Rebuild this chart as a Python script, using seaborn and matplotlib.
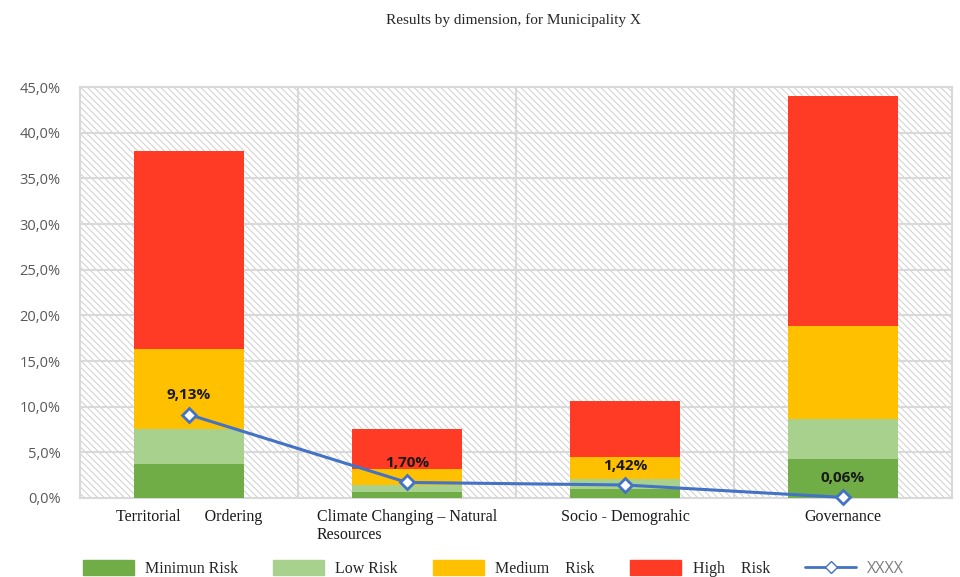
import numpy as np
import pandas as pd
import matplotlib
matplotlib.use("Agg")
import matplotlib.pyplot as plt
from matplotlib.patches import Rectangle
from matplotlib.ticker import FuncFormatter
from matplotlib.lines import Line2D
import seaborn as sns

# Datos
dimensiones = ["Territorial      Ordering", "Climate Changing \u2013 Natural\nResources",
               "Socio - Demograhic", "Governance"]
minimo = [3.7, 0.65, 1.0, 4.25]
bajo = [3.85, 0.75, 1.05, 4.4]
medio = [8.75, 1.8, 2.4, 10.2]
alto = [21.7, 4.3, 6.15, 25.15]
xxxx = [9.13, 1.70, 1.42, 0.06]
etiquetas_xxxx = ["9,13%", "1,70%", "1,42%", "0,06%"]

capas = [("Minimun Risk", minimo, "#70AD47"),
         ("Low Risk", bajo, "#A9D18E"),
         ("Medium    Risk", medio, "#FFC000"),
         ("High    Risk", alto, "#FF3B25")]

SERIF = ["Liberation Serif", "DejaVu Serif"]

sns.set_style("white")
plt.rcParams["hatch.linewidth"] = 0.7
plt.rcParams["font.family"] = ["Open Sans", "DejaVu Sans"]

fig = plt.figure(figsize=(9.6, 5.77), dpi=100)
ax = fig.add_axes([0.0833, 0.137, 0.9084, 0.712])

# fondo rayado
ax.add_patch(Rectangle((0, 0), 1, 1, transform=ax.transAxes, facecolor="white",
                       edgecolor="#cfcfcf", hatch="\\\\\\\\\\", lw=0, zorder=0))

df = pd.DataFrame({"dim": dimensiones})
base = np.zeros(len(dimensiones))
for nombre, vals, color in capas:
    df["v"] = vals
    sns.barplot(data=df, x="dim", y="v", bottom=base, color=color, width=0.505,
                saturation=1, ax=ax, zorder=3, linewidth=0)
    base = base + np.array(vals)

sns.lineplot(x=np.arange(len(dimensiones)), y=xxxx, ax=ax, color="#4472C4", lw=2.2,
             marker="D", markersize=7, markerfacecolor="white", markeredgecolor="#4472C4",
             markeredgewidth=2, zorder=5, clip_on=False)
for i, (v, t) in enumerate(zip(xxxx, etiquetas_xxxx)):
    ax.annotate(t, (i, v), xytext=(0, 14), textcoords="offset points", ha="center",
                va="center", fontsize=11, fontweight="bold", color="#1a1a1a", zorder=6)

ax.set_ylim(0, 45)
ax.set_xlim(-0.5, 3.5)
ax.set_yticks(np.arange(0, 46, 5))
ax.yaxis.set_major_formatter(FuncFormatter(lambda y, p: f"{y:.1f}%".replace(".", ",")))
for y in np.arange(5, 46, 5):
    ax.axhline(y, color="#d9d9d9", lw=1.5, zorder=1)
for x in [0.5, 1.5, 2.5]:
    ax.axvline(x, color="#d9d9d9", lw=1.5, zorder=1)
for s in ax.spines.values():
    s.set_color("#d9d9d9")
    s.set_linewidth(1.5)
ax.tick_params(axis="y", labelsize=10.5, colors="#595959", length=0, pad=14)
ax.tick_params(axis="x", length=0, pad=8)
ax.set_xticks(range(len(dimensiones)))
ax.set_xticklabels(dimensiones, family=SERIF, fontsize=11.5, color="#1a1a1a",
                   multialignment="left", va="top")
ax.set_xlabel("")
ax.set_ylabel("")

fig.text(0.535, 0.965, "Results by dimension, for Municipality X", ha="center", va="center",
         family=SERIF, fontsize=11, color="#262626")

handles = [Rectangle((0, 0), 1, 1, color=c) for _, _, c in capas]
handles.append(Line2D([0], [0], color="#4472C4", lw=2, marker="D", markersize=6,
                      markerfacecolor="white", markeredgecolor="#4472C4"))
labels = [n for n, _, _ in capas] + ["XXXX"]
leg = fig.legend(handles, labels, loc="lower center", bbox_to_anchor=(0.514, -0.025), ncol=5,
                 frameon=False, handlelength=3.2, handleheight=1.0, columnspacing=2.2,
                 handletextpad=0.7, prop={"family": SERIF, "size": 11.5})
leg.get_texts()[-1].set_color("#7f7f7f")
leg.get_texts()[-1].set_fontfamily(["Open Sans", "DejaVu Sans"])

fig.savefig("out.png", dpi=100)
